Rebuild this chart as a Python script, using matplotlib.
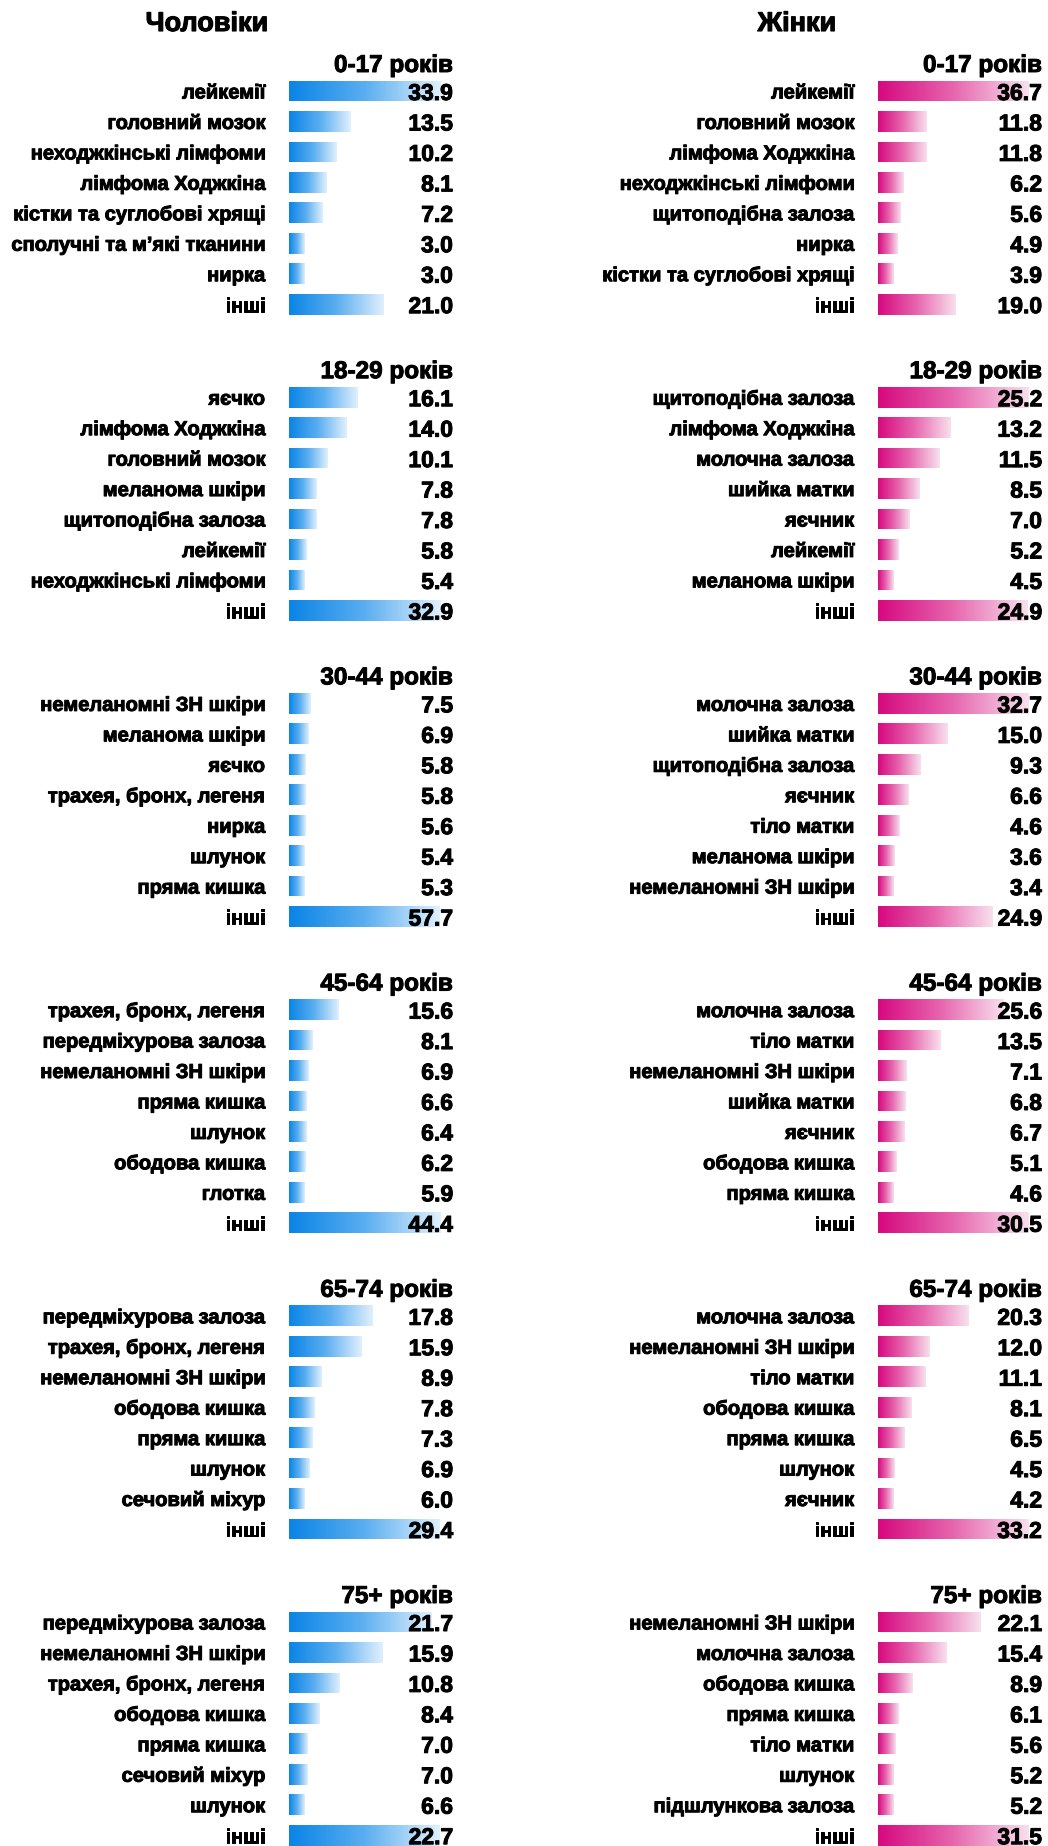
"""Most frequent cancer sites by age group, men vs women (Excel-style data bars)."""
import numpy as np
import matplotlib
matplotlib.use("Agg")
import matplotlib.pyplot as plt  # noqa: E402
import matplotlib.patheffects as pe  # noqa: E402
from matplotlib.colors import LinearSegmentedColormap  # noqa: E402
from matplotlib.transforms import blended_transform_factory  # noqa: E402

# ---- data -------------------------------------------------------------------
age_groups = ["0-17 років", "18-29 років", "30-44 років", "45-64 років", "65-74 років", "75+ років"]

m_0_17_labels = ["лейкемії", "головний мозок", "неходжкінські лімфоми", "лімфома Ходжкіна",
                 "кістки та суглобові хрящі", "сполучні та м’які тканини", "нирка", "інші"]
m_0_17_values = [33.9, 13.5, 10.2, 8.1, 7.2, 3.0, 3.0, 21.0]
m_18_29_labels = ["яєчко", "лімфома Ходжкіна", "головний мозок", "меланома шкіри",
                  "щитоподібна залоза", "лейкемії", "неходжкінські лімфоми", "інші"]
m_18_29_values = [16.1, 14.0, 10.1, 7.8, 7.8, 5.8, 5.4, 32.9]
m_30_44_labels = ["немеланомні ЗН шкіри", "меланома шкіри", "яєчко", "трахея, бронх, легеня",
                  "нирка", "шлунок", "пряма кишка", "інші"]
m_30_44_values = [7.5, 6.9, 5.8, 5.8, 5.6, 5.4, 5.3, 57.7]
m_45_64_labels = ["трахея, бронх, легеня", "передміхурова залоза", "немеланомні ЗН шкіри",
                  "пряма кишка", "шлунок", "ободова кишка", "глотка", "інші"]
m_45_64_values = [15.6, 8.1, 6.9, 6.6, 6.4, 6.2, 5.9, 44.4]
m_65_74_labels = ["передміхурова залоза", "трахея, бронх, легеня", "немеланомні ЗН шкіри",
                  "ободова кишка", "пряма кишка", "шлунок", "сечовий міхур", "інші"]
m_65_74_values = [17.8, 15.9, 8.9, 7.8, 7.3, 6.9, 6.0, 29.4]
m_75_labels = ["передміхурова залоза", "немеланомні ЗН шкіри", "трахея, бронх, легеня",
               "ободова кишка", "пряма кишка", "сечовий міхур", "шлунок", "інші"]
m_75_values = [21.7, 15.9, 10.8, 8.4, 7.0, 7.0, 6.6, 22.7]

f_0_17_labels = ["лейкемії", "головний мозок", "лімфома Ходжкіна", "неходжкінські лімфоми",
                 "щитоподібна залоза", "нирка", "кістки та суглобові хрящі", "інші"]
f_0_17_values = [36.7, 11.8, 11.8, 6.2, 5.6, 4.9, 3.9, 19.0]
f_18_29_labels = ["щитоподібна залоза", "лімфома Ходжкіна", "молочна залоза", "шийка матки",
                  "яєчник", "лейкемії", "меланома шкіри", "інші"]
f_18_29_values = [25.2, 13.2, 11.5, 8.5, 7.0, 5.2, 4.5, 24.9]
f_30_44_labels = ["молочна залоза", "шийка матки", "щитоподібна залоза", "яєчник",
                  "тіло матки", "меланома шкіри", "немеланомні ЗН шкіри", "інші"]
f_30_44_values = [32.7, 15.0, 9.3, 6.6, 4.6, 3.6, 3.4, 24.9]
f_45_64_labels = ["молочна залоза", "тіло матки", "немеланомні ЗН шкіри", "шийка матки",
                  "яєчник", "ободова кишка", "пряма кишка", "інші"]
f_45_64_values = [25.6, 13.5, 7.1, 6.8, 6.7, 5.1, 4.6, 30.5]
f_65_74_labels = ["молочна залоза", "немеланомні ЗН шкіри", "тіло матки", "ободова кишка",
                  "пряма кишка", "шлунок", "яєчник", "інші"]
f_65_74_values = [20.3, 12.0, 11.1, 8.1, 6.5, 4.5, 4.2, 33.2]
f_75_labels = ["немеланомні ЗН шкіри", "молочна залоза", "ободова кишка", "пряма кишка",
               "тіло матки", "шлунок", "підшлункова залоза", "інші"]
f_75_values = [22.1, 15.4, 8.9, 6.1, 5.6, 5.2, 5.2, 31.5]

men = [(m_0_17_labels, m_0_17_values), (m_18_29_labels, m_18_29_values),
       (m_30_44_labels, m_30_44_values), (m_45_64_labels, m_45_64_values),
       (m_65_74_labels, m_65_74_values), (m_75_labels, m_75_values)]
women = [(f_0_17_labels, f_0_17_values), (f_18_29_labels, f_18_29_values),
         (f_30_44_labels, f_30_44_values), (f_45_64_labels, f_45_64_values),
         (f_65_74_labels, f_65_74_values), (f_75_labels, f_75_values)]

# ---- layout (pixels) --------------------------------------------------------
W, H, DPI = 1048, 1846, 100
ROW = 30.45           # row pitch
PANEL = 306.2         # panel pitch
ROW0 = 91.0           # centre of first row of first panel
AX_W = 164.0          # bar start -> right edge of value text
LMIN, LMAX = 15.5, 151.0   # data-bar min / max length, like Excel
BAR_H = 0.68

blue = LinearSegmentedColormap.from_list("blue", ["#0A84E6", "#5AAEF0", "#E0F0FD"])
pink = LinearSegmentedColormap.from_list("pink", ["#D6097F", "#E766AE", "#F8E0EE"])
HEAVY = [pe.withStroke(linewidth=0.7, foreground="black")]

plt.rcParams["font.family"] = ["Liberation Sans", "DejaVu Sans"]
plt.rcParams["font.weight"] = "bold"

fig = plt.figure(figsize=(W / DPI, H / DPI), dpi=DPI)


def px_axes(x0, top, w, h):
    return fig.add_axes([x0 / W, 1 - (top + h) / H, w / W, h / H])


def draw_panel(ax, title, labels, values, cmap):
    n = len(values)
    vals = np.array(values)
    vmin, vmax = vals.min(), vals.max()
    scale = (LMAX - LMIN) / (vmax - vmin)       # px per unit
    start = vmin - LMIN / scale
    y = np.arange(n)
    bars = ax.barh(y, vals - start, left=start, height=BAR_H, color="none", edgecolor="none")
    grad = np.linspace(0, 1, 256)[None, :]
    for b, v, yi in zip(bars, vals, y):
        im = ax.imshow(grad, cmap=cmap, aspect="auto", interpolation="bilinear",
                       extent=(start, v, yi - BAR_H / 2, yi + BAR_H / 2))
        im.set_clip_path(b)
    ax.set_xlim(start, start + AX_W / scale)
    ax.set_ylim(n - 0.5, -0.5)
    ax.set_xticks([])
    ax.set_yticks(y, labels)
    ax.tick_params(axis="y", length=0, pad=17.3, labelsize=14.5)
    for t in ax.get_yticklabels():
        t.set_path_effects(HEAVY)
    for s in ax.spines.values():
        s.set_visible(False)
    ax.patch.set_alpha(0)
    tr = blended_transform_factory(ax.transAxes, ax.transData)
    for v, yi in zip(vals, y):
        ax.text(1.0, yi, f"{v:.1f}", transform=tr, ha="right", va="center_baseline",
                fontsize=16.5, color="black", path_effects=HEAVY)
    ax.text(1.0, -0.92, title, transform=tr, ha="right", va="center_baseline", fontsize=17.5,
            path_effects=HEAVY)


for col, (groups, cmap, x0) in enumerate([(men, blue, 289.0), (women, pink, 878.0)]):
    for k, (title, (labels, values)) in enumerate(zip(age_groups, groups)):
        top = ROW0 + PANEL * k - ROW / 2
        ax = px_axes(x0, top, AX_W, ROW * len(values))
        draw_panel(ax, title, labels, values, cmap)

for x, txt in [(207, "Чоловіки"), (797, "Жінки")]:
    fig.text(x / W, 1 - 24 / H, txt, ha="center", va="center", fontsize=19.5,
             fontweight="bold", path_effects=[pe.withStroke(linewidth=0.8, foreground="black")])

fig.savefig("out.png", dpi=DPI)
